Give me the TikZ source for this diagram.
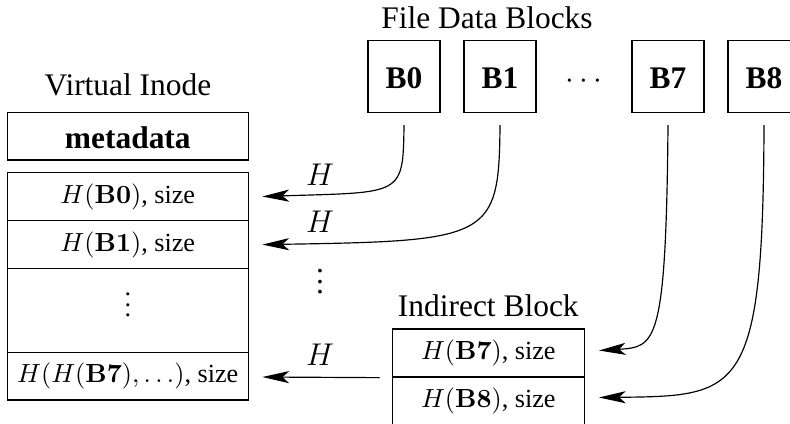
\documentclass[tikz,border=0pt]{standalone}
\usepackage[no-math]{fontspec}
\setmainfont{Liberation Serif}
\usetikzlibrary{arrows.meta,calc}
\def\pxu{0.38168pt}
\tikzset{
  box/.style={draw, line width=0.5pt, inner sep=0pt},
  bblock/.style={box, minimum width=72*\pxu, minimum height=72*\pxu, font=\large\bfseries, text height=9.4pt, text depth=0pt},
  meta/.style={box, minimum width=241*\pxu, minimum height=47.7*\pxu, font=\large\bfseries, text height=9.4pt, text depth=0pt},
  row/.style={box, minimum width=241*\pxu},
  irow/.style={box, minimum width=192*\pxu, minimum height=48*\pxu},
  lbl/.style={font=\large, anchor=base, inner sep=0pt},
  arr/.style={-{Stealth[length=10.2pt,width=4.6pt,inset=2.5pt]}, line width=0.45pt},
}
\begin{document}
\begin{tikzpicture}[x=\pxu, y=-\pxu]
\useasboundingbox (0,0) rectangle (790,423);
\clip (0,0) rectangle (790,423);

% labels
\node[lbl] (lfile) at (487,28.3) {File Data Blocks};
\node[lbl] (lvi) at (128,95) {Virtual Inode};
\node[lbl] (lind) at (488.3,316.7) {Indirect Block};

% file data blocks
\node[bblock] (b0) at (404,76.5) {B0};
\node[bblock] (b1) at (500,76.5) {B1};
\node[lbl] (bdots) at (584,88.8) {$\cdots$};
\node[bblock] (b7) at (668,76.5) {B7};
\node[bblock] (b8) at (764,76.5) {B8};

% virtual inode
\node[meta] (meta) at (127.8,136.2) {metadata};
\node[row, minimum height=48.4*\pxu] (r0) at (127.8,196.5) {$H(\mathbf{B0})$, size};
\node[row, minimum height=47.8*\pxu] (r1) at (127.8,244.6) {$H(\mathbf{B1})$, size};
\node[row, minimum height=84*\pxu, text height=4.8pt, text depth=0pt] (rd) at (127.8,310.5) {\vdots};
\node[row, minimum height=47.5*\pxu] (r3) at (127.8,376.25) {$H(H(\mathbf{B7}),\ldots)$, size};

% indirect block
\node[irow] (i0) at (488.3,353) {$H(\mathbf{B7})$, size};
\node[irow] (i1) at (488.3,401) {$H(\mathbf{B8})$, size};

% H labels and dots
\node[lbl] (h0) at (320,185) {$H$};
\node[lbl] (h1) at (320,232.4) {$H$};
\node[lbl, text height=9pt] (hd) at (320,293.5) {\vdots};
\node[lbl] (h3) at (320,365.7) {$H$};

% connectors
\draw[arr] ($(b0.south)+(0,12)$) .. controls +(-1,71.5) and +(140.3,-4.5) .. ($(r0.east)+(13.4,0)$);
\draw[arr] ($(b1.south)+(0,12)$) .. controls +(-1,113.5) and +(228.3,-3.6) .. ($(r1.east)+(13.4,0)$);
\draw[arr] ($(i0.south west)+(-12,0)$) -- ($(r3.east)+(13.4,0.75)$);
\draw[arr] ($(b7.south)+(0,12)$) .. controls +(-2,220.5) and +(56.7,-3.5) .. ($(i0.east)+(14,-2.5)$);
\draw[arr] ($(b8.south)+(0,12)$) .. controls +(-1,270.5) and +(141.7,-1.5) .. ($(i1.east)+(14,-3.5)$);
\end{tikzpicture}
\end{document}
